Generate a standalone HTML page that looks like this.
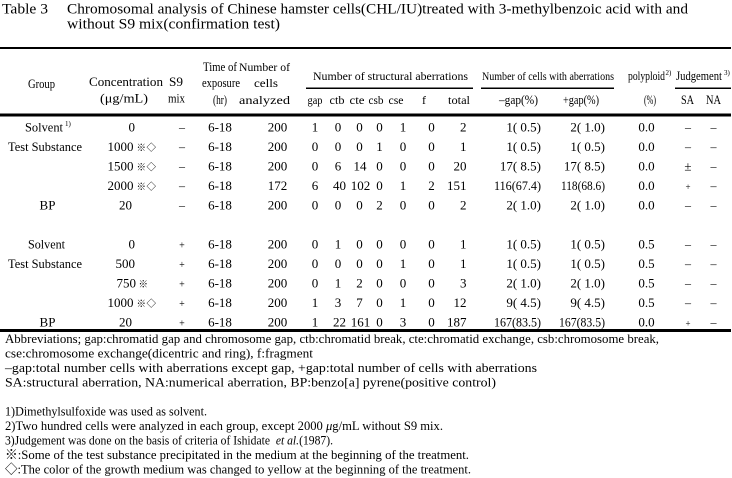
<!DOCTYPE html>
<html>
<head>
<meta charset="utf-8">
<style>
html,body{margin:0;padding:0;background:#fff;}
svg{display:block;}
text{font-family:"Liberation Serif","Noto Serif CJK SC",serif;fill:#000;}
.cjk{font-family:"Noto Serif CJK SC","Liberation Serif",serif;}
</style>
</head>
<body>
<svg width="732" height="478" viewBox="0 0 732 478" xmlns="http://www.w3.org/2000/svg" font-size="13">
<rect x="0" y="0" width="732" height="478" fill="#fff"/>

<!-- Title -->
<text x="2" y="13.3" font-size="14.5" textLength="46" lengthAdjust="spacingAndGlyphs">Table 3</text>
<text x="67" y="13.3" font-size="14.5" textLength="621" lengthAdjust="spacingAndGlyphs">Chromosomal analysis of Chinese hamster cells(CHL/IU)treated with 3-methylbenzoic acid with and</text>
<text x="67" y="28.3" font-size="14.5" textLength="213" lengthAdjust="spacingAndGlyphs">without S9 mix(confirmation test)</text>

<!-- Rules -->
<rect x="0" y="47" width="731" height="2" fill="#000"/>
<rect x="0" y="113.5" width="731" height="3" fill="#000"/>
<rect x="0" y="329" width="731" height="3" fill="#000"/>
<rect x="306" y="87.5" width="167" height="1.5" fill="#000"/>
<rect x="481" y="87.5" width="133" height="1.5" fill="#000"/>
<rect x="675" y="87.5" width="56" height="1.5" fill="#000"/>

<!-- Header -->
<text x="28" y="88" textLength="27" lengthAdjust="spacingAndGlyphs">Group</text>
<text x="89" y="86" textLength="74" lengthAdjust="spacingAndGlyphs">Concentration</text>
<text x="100" y="102.5" textLength="48" lengthAdjust="spacingAndGlyphs">(μg/mL)</text>
<text x="169" y="86" textLength="14" lengthAdjust="spacingAndGlyphs">S9</text>
<text x="168" y="102.5" textLength="17" lengthAdjust="spacingAndGlyphs">mix</text>
<text x="203" y="71" textLength="34" lengthAdjust="spacingAndGlyphs">Time of</text>
<text x="202" y="87" textLength="38" lengthAdjust="spacingAndGlyphs">exposure</text>
<text x="213" y="104" textLength="14" lengthAdjust="spacingAndGlyphs">(hr)</text>
<text x="239" y="71" font-size="12" textLength="51" lengthAdjust="spacingAndGlyphs">Number of</text>
<text x="254" y="87" font-size="12" textLength="24" lengthAdjust="spacingAndGlyphs">cells</text>
<text x="239" y="104" font-size="12" textLength="51" lengthAdjust="spacingAndGlyphs">analyzed</text>
<text x="313" y="80" font-size="12" textLength="155" lengthAdjust="spacingAndGlyphs">Number of structural aberrations</text>
<text x="307.5" y="104" font-size="12" textLength="15" lengthAdjust="spacingAndGlyphs">gap</text>
<text x="329.5" y="104" font-size="12" textLength="15" lengthAdjust="spacingAndGlyphs">ctb</text>
<text x="349.5" y="104" font-size="12" textLength="15" lengthAdjust="spacingAndGlyphs">cte</text>
<text x="368.5" y="104" font-size="12" textLength="15" lengthAdjust="spacingAndGlyphs">csb</text>
<text x="388.5" y="104" font-size="12" textLength="15" lengthAdjust="spacingAndGlyphs">cse</text>
<text x="424" y="104" font-size="12" text-anchor="middle">f</text>
<text x="448" y="104" font-size="12" textLength="22" lengthAdjust="spacingAndGlyphs">total</text>
<text x="482" y="80" font-size="12" textLength="132" lengthAdjust="spacingAndGlyphs">Number of cells with aberrations</text>
<text x="499" y="104" textLength="39" lengthAdjust="spacingAndGlyphs">–gap(%)</text>
<text x="563" y="104" textLength="36" lengthAdjust="spacingAndGlyphs">+gap(%)</text>
<text x="628" y="80" textLength="37" lengthAdjust="spacingAndGlyphs">polyploid</text>
<text x="665.5" y="75" font-size="7">2)</text>
<text x="644" y="104" textLength="12" lengthAdjust="spacingAndGlyphs">(%)</text>
<text x="676" y="80" textLength="46" lengthAdjust="spacingAndGlyphs">Judgement</text>
<text x="724" y="75" font-size="7">3)</text>
<text x="687.5" y="104" text-anchor="middle" textLength="13" lengthAdjust="spacingAndGlyphs">SA</text>
<text x="713.5" y="104" text-anchor="middle" textLength="15" lengthAdjust="spacingAndGlyphs">NA</text>

<!-- Group labels -->
<text x="25" y="131.5" textLength="38" lengthAdjust="spacingAndGlyphs">Solvent</text>
<text x="65" y="126" font-size="7">1)</text>
<text x="8" y="151" textLength="74" lengthAdjust="spacingAndGlyphs">Test Substance</text>
<text x="47.5" y="209.5" text-anchor="middle">BP</text>
<text x="28" y="248.5" textLength="37" lengthAdjust="spacingAndGlyphs">Solvent</text>
<text x="8" y="268" textLength="74" lengthAdjust="spacingAndGlyphs">Test Substance</text>
<text x="47.5" y="326.5" text-anchor="middle">BP</text>

<!-- Concentration -->
<text x="135" y="131.5" text-anchor="end">0</text>
<text x="133.5" y="151" text-anchor="end">1000</text>
<text x="136.5" y="151" font-size="9.5" class="cjk">※</text><text x="146.5" y="151" font-size="9.5" class="cjk">◇</text>
<text x="133.5" y="170.5" text-anchor="end">1500</text>
<text x="136.5" y="170.5" font-size="9.5" class="cjk">※</text><text x="146.5" y="170.5" font-size="9.5" class="cjk">◇</text>
<text x="133.5" y="190" text-anchor="end">2000</text>
<text x="136.5" y="190" font-size="9.5" class="cjk">※</text><text x="146.5" y="190" font-size="9.5" class="cjk">◇</text>
<text x="132" y="209.5" text-anchor="end">20</text>
<text x="135" y="248.5" text-anchor="end">0</text>
<text x="135" y="268" text-anchor="end">500</text>
<text x="136" y="287.5" text-anchor="end">750</text>
<text x="138.5" y="287.5" font-size="9.5" class="cjk">※</text>
<text x="133.5" y="307" text-anchor="end">1000</text>
<text x="136.5" y="307" font-size="9.5" class="cjk">※</text><text x="146.5" y="307" font-size="9.5" class="cjk">◇</text>
<text x="132" y="326.5" text-anchor="end">20</text>

<!-- S9 -->
<g text-anchor="middle" font-size="12">
<text x="182" y="131">–</text>
<text x="182" y="150.5">–</text>
<text x="182" y="170">–</text>
<text x="182" y="189.5">–</text>
<text x="182" y="209">–</text>
</g>
<g text-anchor="middle" font-size="10">
<text x="182" y="248.5">+</text>
<text x="182" y="268">+</text>
<text x="182" y="287.5">+</text>
<text x="182" y="307">+</text>
<text x="182" y="326.5">+</text>
</g>

<!-- Time & cells -->
<g text-anchor="middle">
<text x="220" y="131.5">6-18</text>
<text x="220" y="151">6-18</text>
<text x="220" y="170.5">6-18</text>
<text x="220" y="190">6-18</text>
<text x="220" y="209.5">6-18</text>
<text x="220" y="248.5">6-18</text>
<text x="220" y="268">6-18</text>
<text x="220" y="287.5">6-18</text>
<text x="220" y="307">6-18</text>
<text x="220" y="326.5">6-18</text>

<text x="277.5" y="131.5">200</text>
<text x="277.5" y="151">200</text>
<text x="277.5" y="170.5">200</text>
<text x="277.5" y="190">172</text>
<text x="277.5" y="209.5">200</text>
<text x="277.5" y="248.5">200</text>
<text x="277.5" y="268">200</text>
<text x="277.5" y="287.5">200</text>
<text x="277.5" y="307">200</text>
<text x="277.5" y="326.5">200</text>
</g>

<!-- Structural aberrations -->
<g text-anchor="middle">
<text x="315" y="131.5">1</text><text x="338" y="131.5">0</text><text x="359.5" y="131.5">0</text><text x="379.5" y="131.5">0</text><text x="403" y="131.5">1</text><text x="431.5" y="131.5">0</text>
<text x="315" y="151">0</text><text x="338" y="151">0</text><text x="359.5" y="151">0</text><text x="379.5" y="151">1</text><text x="403" y="151">0</text><text x="431.5" y="151">0</text>
<text x="315" y="170.5">0</text><text x="338" y="170.5">6</text><text x="360" y="170.5">14</text><text x="379.5" y="170.5">0</text><text x="403" y="170.5">0</text><text x="431.5" y="170.5">0</text>
<text x="315" y="190">6</text><text x="339.5" y="190">40</text><text x="360.5" y="190">102</text><text x="379.5" y="190">0</text><text x="403" y="190">1</text><text x="431.5" y="190">2</text>
<text x="315" y="209.5">0</text><text x="338" y="209.5">0</text><text x="359.5" y="209.5">0</text><text x="379.5" y="209.5">2</text><text x="403" y="209.5">0</text><text x="431.5" y="209.5">0</text>
<text x="315" y="248.5">0</text><text x="338" y="248.5">1</text><text x="359.5" y="248.5">0</text><text x="379.5" y="248.5">0</text><text x="403" y="248.5">0</text><text x="431.5" y="248.5">0</text>
<text x="315" y="268">0</text><text x="338" y="268">0</text><text x="359.5" y="268">0</text><text x="379.5" y="268">0</text><text x="403" y="268">1</text><text x="431.5" y="268">0</text>
<text x="315" y="287.5">0</text><text x="338" y="287.5">1</text><text x="359.5" y="287.5">2</text><text x="379.5" y="287.5">0</text><text x="403" y="287.5">0</text><text x="431.5" y="287.5">0</text>
<text x="315" y="307">1</text><text x="338" y="307">3</text><text x="359.5" y="307">7</text><text x="379.5" y="307">0</text><text x="403" y="307">1</text><text x="431.5" y="307">0</text>
<text x="315" y="326.5">1</text><text x="339.5" y="326.5">22</text><text x="360.5" y="326.5">161</text><text x="379.5" y="326.5">0</text><text x="403" y="326.5">3</text><text x="431.5" y="326.5">0</text>
</g>

<!-- totals and percentages -->
<g text-anchor="end">
<text x="466.5" y="131.5">2</text>
<text x="466.5" y="151">1</text>
<text x="466.5" y="170.5">20</text>
<text x="466.5" y="190">151</text>
<text x="466.5" y="209.5">2</text>
<text x="466.5" y="248.5">1</text>
<text x="466.5" y="268">1</text>
<text x="466.5" y="287.5">3</text>
<text x="466.5" y="307">12</text>
<text x="466.5" y="326.5">187</text>

<text x="541" y="131.5" xml:space="preserve">1( 0.5)</text>
<text x="541" y="151" xml:space="preserve">1( 0.5)</text>
<text x="541" y="170.5" xml:space="preserve">17( 8.5)</text>
<text x="541" y="190" textLength="47" lengthAdjust="spacingAndGlyphs">116(67.4)</text>
<text x="541" y="209.5" xml:space="preserve">2( 1.0)</text>
<text x="541" y="248.5" xml:space="preserve">1( 0.5)</text>
<text x="541" y="268" xml:space="preserve">1( 0.5)</text>
<text x="541" y="287.5" xml:space="preserve">2( 1.0)</text>
<text x="541" y="307" xml:space="preserve">9( 4.5)</text>
<text x="541" y="326.5" textLength="47" lengthAdjust="spacingAndGlyphs">167(83.5)</text>

<text x="605" y="131.5" xml:space="preserve">2( 1.0)</text>
<text x="605" y="151" xml:space="preserve">1( 0.5)</text>
<text x="605" y="170.5" xml:space="preserve">17( 8.5)</text>
<text x="605" y="190" textLength="44" lengthAdjust="spacingAndGlyphs">118(68.6)</text>
<text x="605" y="209.5" xml:space="preserve">2( 1.0)</text>
<text x="605" y="248.5" xml:space="preserve">1( 0.5)</text>
<text x="605" y="268" xml:space="preserve">1( 0.5)</text>
<text x="605" y="287.5" xml:space="preserve">2( 1.0)</text>
<text x="605" y="307" xml:space="preserve">9( 4.5)</text>
<text x="605" y="326.5" textLength="46" lengthAdjust="spacingAndGlyphs">167(83.5)</text>
</g>

<!-- polyploid -->
<g text-anchor="middle">
<text x="646.5" y="131.5">0.0</text>
<text x="646.5" y="151">0.0</text>
<text x="646.5" y="170.5">0.0</text>
<text x="646.5" y="190">0.0</text>
<text x="646.5" y="209.5">0.0</text>
<text x="646.5" y="248.5">0.5</text>
<text x="646.5" y="268">0.5</text>
<text x="646.5" y="287.5">0.5</text>
<text x="646.5" y="307">0.5</text>
<text x="646.5" y="326.5">0.0</text>
</g>

<!-- Judgement SA -->
<g text-anchor="middle" font-size="12">
<text x="688" y="131">–</text>
<text x="688" y="150.5">–</text>
<text x="688" y="170.5" font-size="13">±</text>
<text x="688" y="190" font-size="9">+</text>
<text x="688" y="209">–</text>
<text x="688" y="248">–</text>
<text x="688" y="267.5">–</text>
<text x="688" y="287">–</text>
<text x="688" y="306.5">–</text>
<text x="688" y="326.5" font-size="9">+</text>
</g>
<!-- Judgement NA -->
<g text-anchor="middle" font-size="12">
<text x="713.5" y="131">–</text>
<text x="713.5" y="150.5">–</text>
<text x="713.5" y="170">–</text>
<text x="713.5" y="189.5">–</text>
<text x="713.5" y="209">–</text>
<text x="713.5" y="248">–</text>
<text x="713.5" y="267.5">–</text>
<text x="713.5" y="287">–</text>
<text x="713.5" y="306.5">–</text>
<text x="713.5" y="326">–</text>
</g>

<!-- Footnotes -->
<text x="5" y="343" textLength="654" lengthAdjust="spacingAndGlyphs">Abbreviations; gap:chromatid gap and chromosome gap, ctb:chromatid break, cte:chromatid exchange, csb:chromosome break,</text>
<text x="5" y="357.5" textLength="308" lengthAdjust="spacingAndGlyphs">cse:chromosome exchange(dicentric and ring), f:fragment</text>
<text x="5" y="372" textLength="532" lengthAdjust="spacingAndGlyphs">–gap:total number cells with aberrations except gap, +gap:total number of cells with aberrations</text>
<text x="5" y="386.5" textLength="491" lengthAdjust="spacingAndGlyphs">SA:structural aberration, NA:numerical aberration, BP:benzo[a] pyrene(positive control)</text>
<text x="5" y="415.5" textLength="202" lengthAdjust="spacingAndGlyphs">1)Dimethylsulfoxide was used as solvent.</text>
<text x="5" y="430" textLength="438" lengthAdjust="spacingAndGlyphs">2)Two hundred cells were analyzed in each group, except 2000 <tspan font-style="italic">μ</tspan>g/mL without S9 mix.</text>
<text x="5" y="444.5" textLength="328" lengthAdjust="spacingAndGlyphs" xml:space="preserve">3)Judgement was done on the basis of criteria of Ishidate  <tspan font-style="italic">et al.</tspan>(1987).</text>
<text x="5" y="459" textLength="464" lengthAdjust="spacingAndGlyphs"><tspan class="cjk">※</tspan>:Some of the test substance precipitated in the medium at the beginning of the treatment.</text>
<text x="5" y="473.5" textLength="466" lengthAdjust="spacingAndGlyphs"><tspan class="cjk">◇</tspan>:The color of the growth medium was changed to yellow at the beginning of the treatment.</text>
</svg>
</body>
</html>
